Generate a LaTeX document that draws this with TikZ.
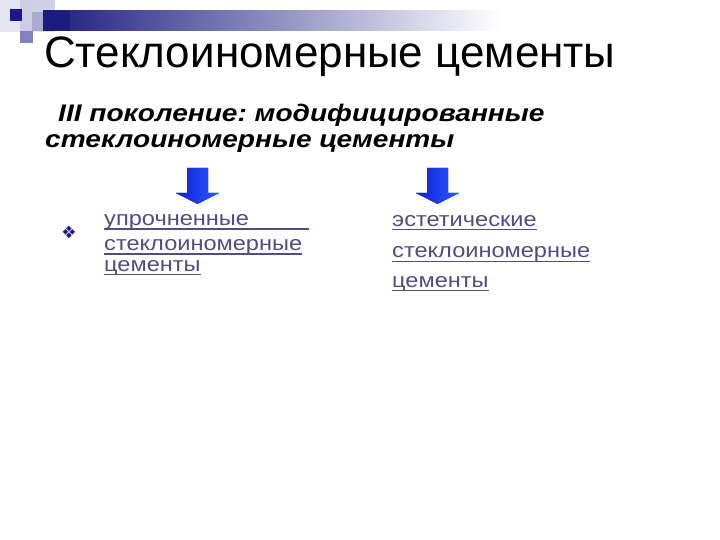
\documentclass[tikz,border=0pt]{standalone}
\usepackage{fontspec}
\setmainfont{Liberation Sans}
\newfontfamily\symfont{DejaVu Sans}
\frenchspacing
\definecolor{navy}{RGB}{28,28,128}
\definecolor{pale}{RGB}{228,228,242}
\definecolor{lav}{RGB}{170,170,210}
\definecolor{midlav}{RGB}{130,130,190}
\definecolor{linkc}{RGB}{78,78,128}
\definecolor{arrowdark}{RGB}{10,30,215}
\definecolor{arrowlight}{RGB}{50,90,255}
\tikzset{
  x=1pt,y=-1pt,
  titletext/.style={anchor=base west,inner sep=0pt,font=\fontsize{44}{50}\selectfont},
  subtext/.style={anchor=base west,inner sep=0pt,xscale=1.17,transform shape,font=\fontsize{24}{28}\selectfont\bfseries\itshape},
  linktext/.style={anchor=base west,inner sep=0pt,xscale=1.15,transform shape,text=linkc,font=\fontsize{20.5}{24}\selectfont},
  uline/.style={linkc,line width=1.4pt},
  downarrow/.style={left color=arrowdark,right color=arrowlight,draw=none}
}
\begin{document}
\begin{tikzpicture}
\useasboundingbox (0,0) rectangle (720,540);
\fill[white] (0,0) rectangle (720,540);
% decoration top-left
\fill[pale] (0,0) rectangle (55,32);
\fill[lav!60!white] (20,0) rectangle (32,32);
\fill[lav!55!white] (32,0) rectangle (55,12);
\fill[lav] (32,12) rectangle (43,31);
\shade[left color=navy,right color=white,shading angle=90] (43,11) rectangle (500,31);
\fill[navy] (43,11) rectangle (70,31);
\fill[navy!90!blue] (10,9) rectangle (22,21);
\fill[midlav] (20,31) rectangle (33,43);
% title
\node[titletext] (title) at (44,68) {Стеклоиномерные цементы};
% subtitle
\node[subtext] (sub1) at (58,122) {III поколение: модифицированные};
\node[subtext] (sub2) at (45,148) {стеклоиномерные цементы};
% arrows
\fill[downarrow] (187,168) -- (208,168) -- (208,193) -- (219,193) -- (197.5,204) -- (176,193) -- (187,193) -- cycle;
\fill[downarrow] (427,168) -- (448,168) -- (448,193) -- (459,193) -- (437.5,204) -- (416,193) -- (427,193) -- cycle;
% bullet
\node[inner sep=0pt,text=navy,font=\symfont\fontsize{17}{18}\selectfont] (bul) at (69,232) {❖};
% left list
\node[linktext] (a1) at (104,225.5) {упрочненные};
\node[linktext] (a2) at (104,250.5) {стеклоиномерные};
\node[linktext] (a3) at (104,271) {цементы};
\coordinate (a1end) at (309,229);
\draw[uline] ([yshift=-3.5pt]a1.base west) -- (a1end);
\draw[uline] ([yshift=-3.5pt]a2.base west) -- ([yshift=-3.5pt]a2.base east);
\draw[uline] ([yshift=-3.5pt]a3.base west) -- ([yshift=-3.5pt]a3.base east);
% right list
\node[linktext] (b1) at (392,226) {эстетические};
\node[linktext] (b2) at (392,258) {стеклоиномерные};
\node[linktext] (b3) at (392,287) {цементы};
\draw[uline] ([yshift=-3.5pt]b1.base west) -- ([yshift=-3.5pt]b1.base east);
\draw[uline] ([yshift=-3.5pt]b2.base west) -- ([yshift=-3.5pt]b2.base east);
\draw[uline] ([yshift=-3.5pt]b3.base west) -- ([yshift=-3.5pt]b3.base east);
\end{tikzpicture}
\end{document}
